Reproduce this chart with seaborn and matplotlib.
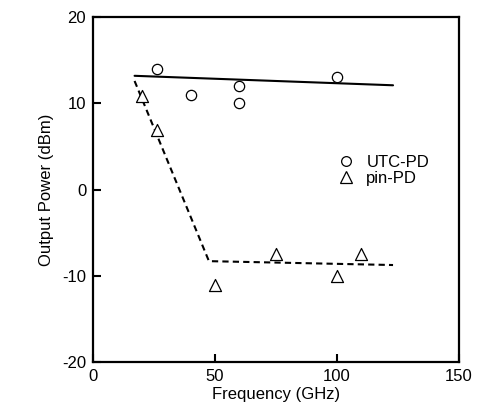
import matplotlib
matplotlib.use("Agg")
import matplotlib.pyplot as plt
import seaborn as sns
import pandas as pd
from matplotlib.lines import Line2D

# Data
utc_freq = [26, 40, 60, 60, 100]
utc_power = [14.0, 11.0, 12.0, 10.0, 13.1]
pin_freq = [20, 26, 50, 75, 100, 110]
pin_power = [10.9, 6.9, -11.1, -7.5, -10.0, -7.5]
utc_fit_freq = [17, 123]
utc_fit_power = [13.2, 12.1]
pin_fit_freq = [17, 47.5, 123]
pin_fit_power = [12.6, -8.3, -8.75]
x_ticks = [0, 50, 100, 150]
y_ticks = [-20, -10, 0, 10, 20]

sns.set_style("ticks")
plt.rcParams['font.family'] = ['Liberation Sans', 'DejaVu Sans']
plt.rcParams['axes.unicode_minus'] = False
plt.rcParams['text.color'] = 'black'
plt.rcParams['axes.labelcolor'] = 'black'

fig = plt.figure(figsize=(4.8, 4.19), dpi=100)
ax = fig.add_axes([0.194, 0.136, 0.762, 0.823])

utc_df = pd.DataFrame({"f": utc_freq, "p": utc_power})
pin_df = pd.DataFrame({"f": pin_freq, "p": pin_power})
utc_fit = pd.DataFrame({"f": utc_fit_freq, "p": utc_fit_power})
pin_fit = pd.DataFrame({"f": pin_fit_freq, "p": pin_fit_power})

sns.lineplot(data=utc_fit, x="f", y="p", ax=ax, color="black", lw=1.5,
             sort=False, estimator=None)
sns.lineplot(data=pin_fit, x="f", y="p", ax=ax, color="black", lw=1.5,
             sort=False, estimator=None)
ax.lines[-1].set_dashes((3, 2))

sns.scatterplot(data=utc_df, x="f", y="p", ax=ax, marker="o", s=55,
                facecolor="white", edgecolor="black", linewidth=0.9, zorder=3)
sns.scatterplot(data=pin_df, x="f", y="p", ax=ax, marker="^", s=75,
                facecolor="white", edgecolor="black", linewidth=0.9, zorder=3)

ax.set_xlim(0, 150)
ax.set_ylim(-20, 20)
ax.set_xticks(x_ticks)
ax.set_yticks(y_ticks)
ax.set_xlabel("Frequency (GHz)", fontsize=12, labelpad=2, color="black")
ax.set_ylabel("Output Power (dBm)", fontsize=12, labelpad=6, color="black")
ax.tick_params(direction="in", length=6, width=1.5, labelsize=12, pad=5,
               colors="black", labelcolor="black")
for sp in ax.spines.values():
    sp.set_visible(True)
    sp.set_linewidth(1.6)
    sp.set_color("black")

handles = [
    Line2D([], [], linestyle="none", marker="o", markersize=7,
           markerfacecolor="white", markeredgecolor="black", markeredgewidth=0.9),
    Line2D([], [], linestyle="none", marker="^", markersize=8,
           markerfacecolor="white", markeredgecolor="black", markeredgewidth=0.9),
]
leg = ax.legend(handles, ["UTC-PD", "pin-PD"], loc="center left",
                bbox_to_anchor=(0.615, 0.555), frameon=False, fontsize=12,
                handletextpad=0.5, labelspacing=0.05, handlelength=1.5)
for t in leg.get_texts():
    t.set_color("black")

fig.savefig("out.png", dpi=100)
